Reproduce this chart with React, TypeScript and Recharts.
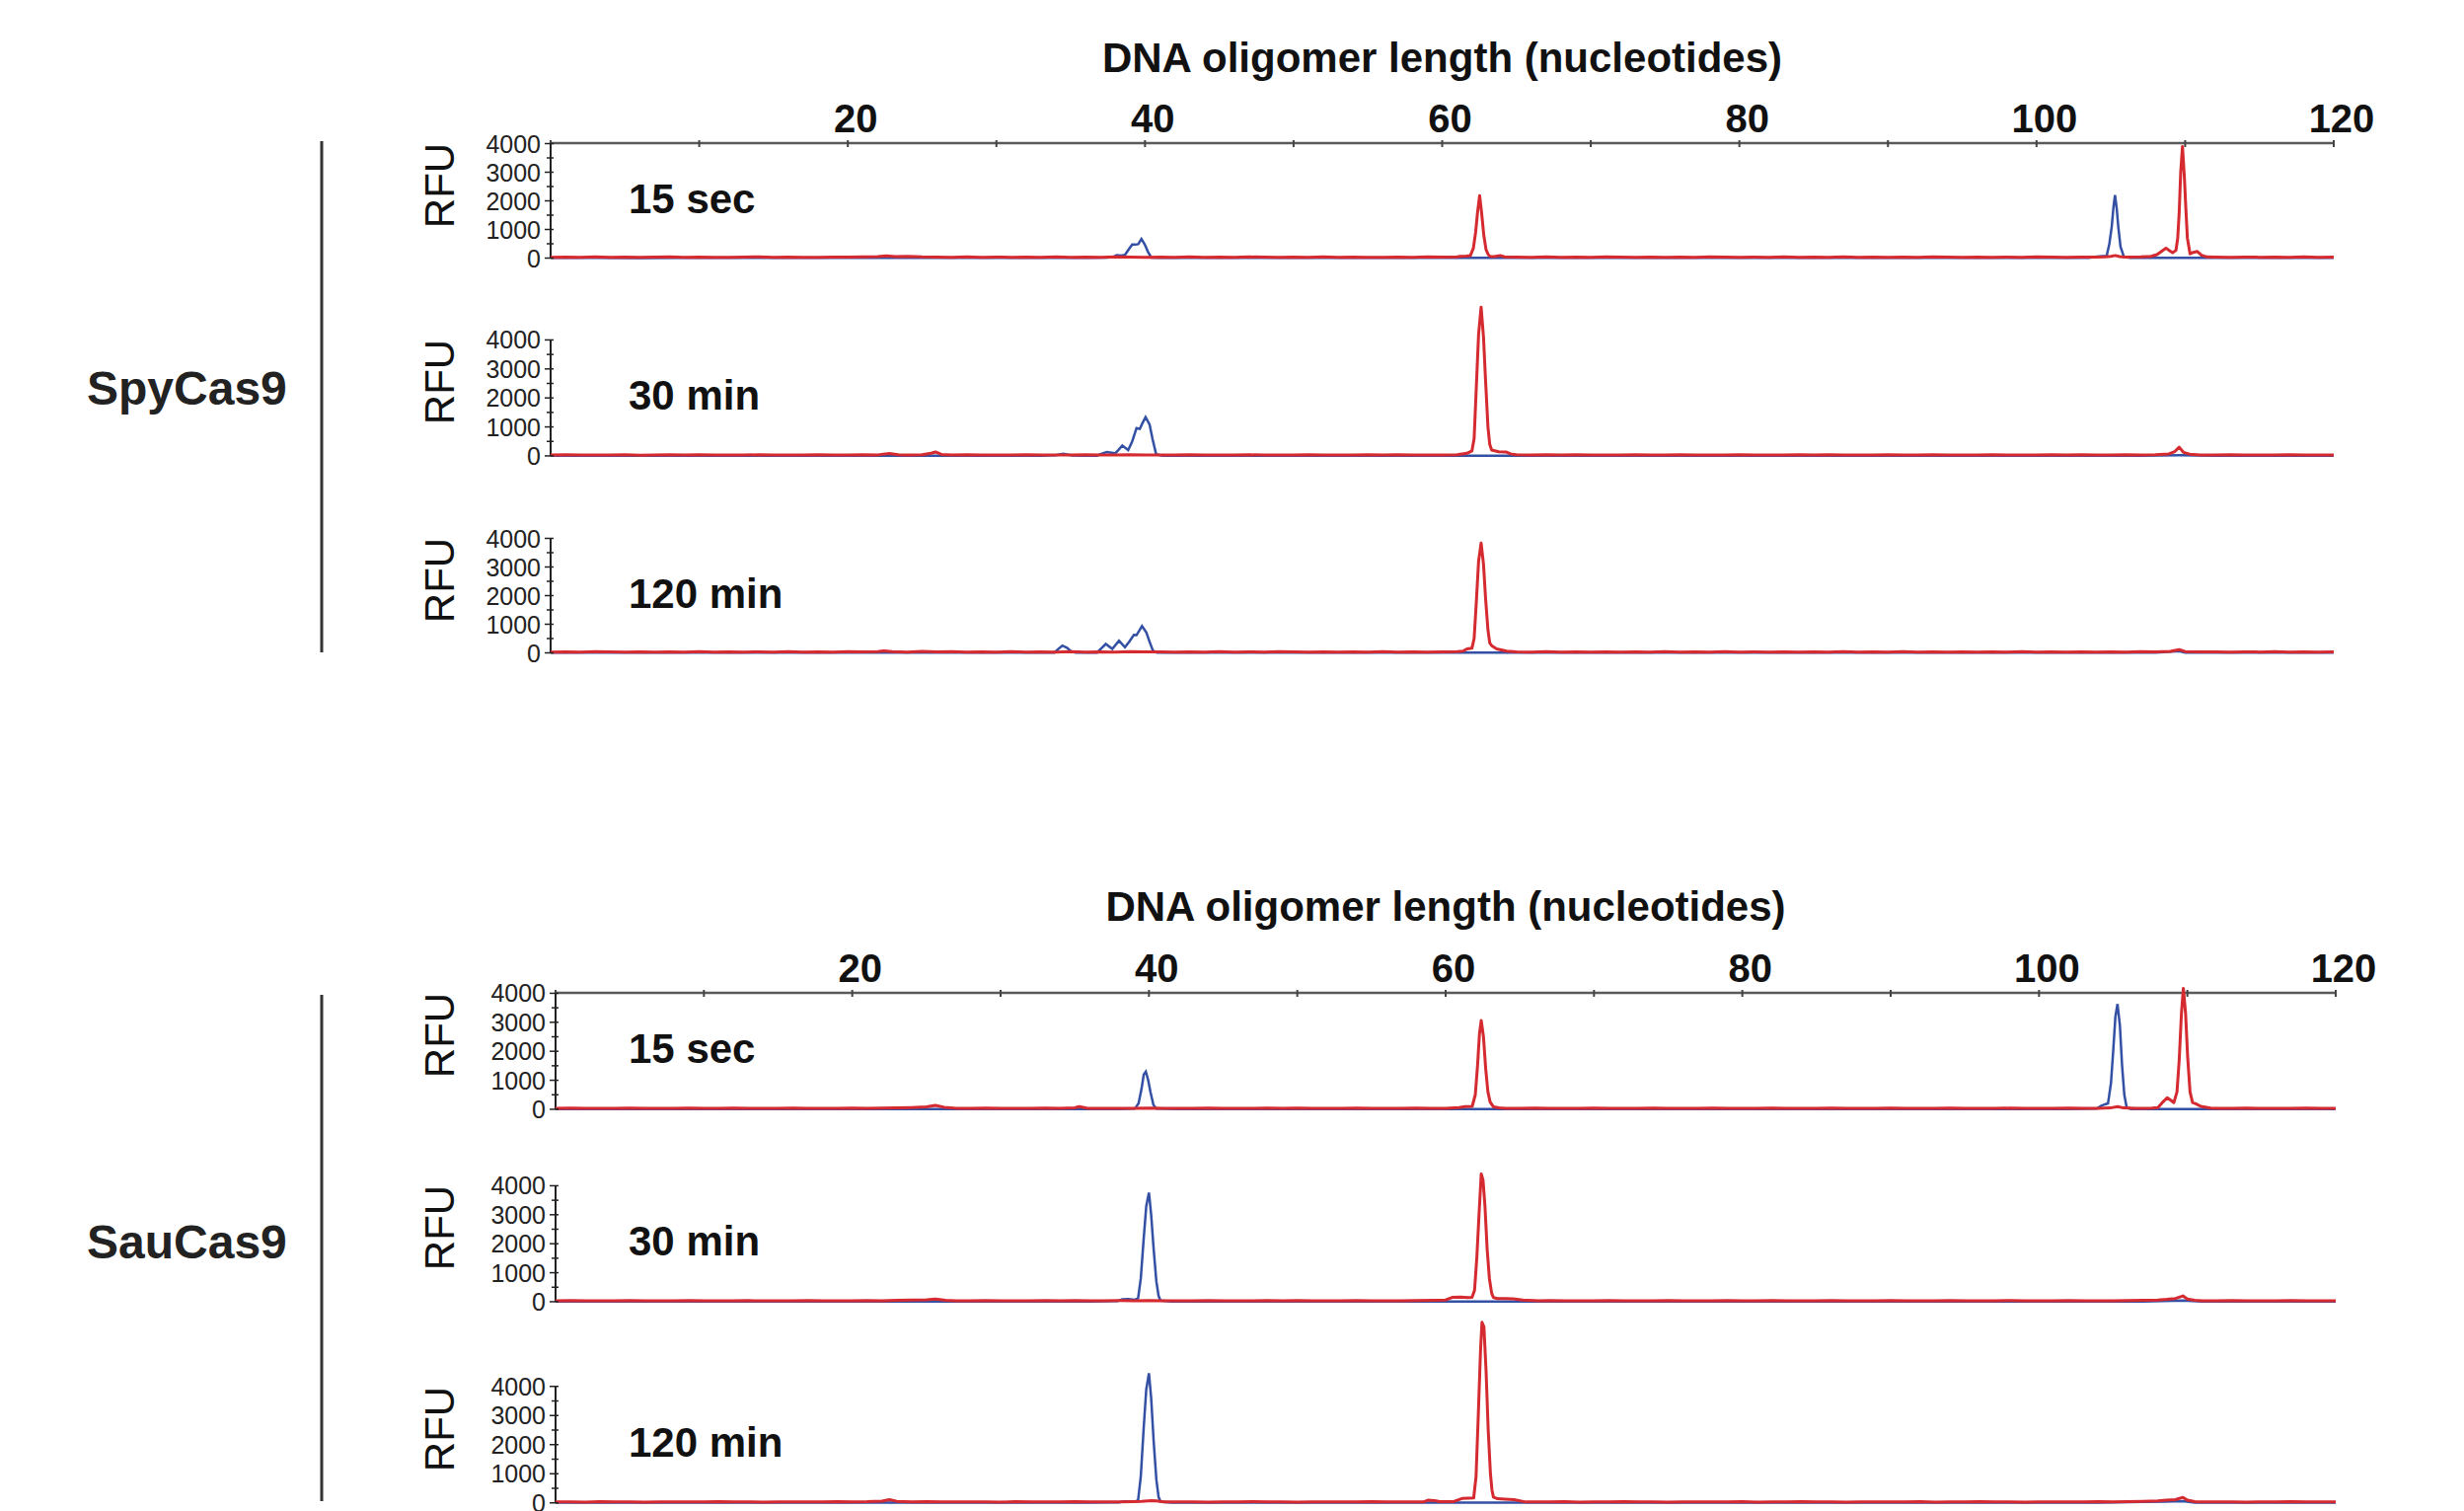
import { Line, LineChart, ReferenceLine, XAxis, YAxis } from "recharts";

const FONT = '"Liberation Sans", Arial, Helvetica, sans-serif';
const RED = "#d42a30";
const BLUE = "#3350a4";
const INK = "#222";
const Y_MAX = 6500;

const xTicks = [0, 10, 20, 30, 40, 50, 60, 70, 80, 90, 100, 110, 120];
const xTickLabels = [20, 40, 60, 80, 100, 120];
const yTicks = [0, 500, 1000, 1500, 2000, 2500, 3000, 3500, 4000];
const yTickLabels = [0, 1000, 2000, 3000, 4000];
const axisTitle = "DNA oligomer length (nucleotides)";

// traces as flat [length, RFU, length, RFU, ...]
const spy15Blue = [0,5, 3,8, 6,4, 9,10, 12,6, 15,9, 18,5, 21,12, 24,7, 27,5, 30,10, 33,6, 36,9, 37.5,15, 37.87,40, 38.1,100, 38.4,85, 38.65,110, 38.9,300, 39.14,475, 39.35,470, 39.54,485, 39.76,670, 39.98,480, 40.2,220, 40.42,20, 41,8, 44,5, 47,9, 50,6, 53,8, 56,5, 59,9, 62,5, 65,8, 68,6, 71,9, 74,5, 77,8, 80,6, 83,9, 86,5, 89,8, 92,6, 95,9, 98,5, 101,8, 103.5,10, 104.06,50, 104.45,70, 104.72,80, 104.9,500, 105.06,1100, 105.18,1800, 105.28,2200, 105.4,1700, 105.5,1100, 105.65,400, 105.88,40, 106.3,10, 108,6, 111,8, 114,5, 117,9, 120,5];
const spy15Red = [0,30, 1,38, 2,26, 3,42, 4,30, 5,36, 6,24, 7,33, 8,44, 9,28, 10,36, 11,30, 12,24, 13,38, 14,42, 15,30, 16,36, 17,28, 18,24, 19,38, 20,32, 21,44, 22,55, 22.6,75, 23.2,48, 24,58, 25,40, 26,34, 27,30, 28,42, 29,28, 30,36, 31,26, 32,38, 33,30, 34,42, 35,30, 36,36, 37,30, 38,44, 39,36, 40,30, 41,36, 42,28, 43,42, 44,30, 45,36, 46,26, 47,42, 48,34, 49,30, 50,38, 51,28, 52,42, 53,30, 54,36, 55,30, 56,26, 57,36, 58,30, 59,42, 60,34, 61,40, 61.2,60, 61.6,70, 61.9,90, 62.1,350, 62.25,900, 62.38,1600, 62.52,2180, 62.65,1600, 62.8,800, 62.95,300, 63.1,120, 63.22,60, 63.5,55, 63.9,90, 64.2,45, 65,36, 66,30, 67,40, 68,28, 69,36, 70,30, 71,42, 72,34, 73,28, 74,38, 75,30, 76,36, 77,26, 78,40, 79,32, 80,30, 81,38, 82,28, 83,40, 84,30, 85,36, 86,28, 87,42, 88,30, 89,36, 90,28, 91,38, 92,30, 93,40, 94,32, 95,28, 96,38, 97,30, 98,36, 99,28, 100,40, 101,32, 102,30, 103,38, 104,32, 104.6,45, 105,60, 105.3,90, 105.6,50, 106,35, 107,42, 107.7,60, 108.1,120, 108.45,250, 108.71,350, 108.95,260, 109.16,185, 109.38,270, 109.5,700, 109.6,1600, 109.7,3000, 109.82,3900, 109.95,2800, 110.05,1700, 110.15,700, 110.33,150, 110.55,200, 110.82,230, 111.1,100, 111.48,40, 112,34, 113,28, 114,38, 115,30, 116,36, 117,28, 118,40, 119,30, 120,34];

const spy30Blue = [0,6, 3,9, 6,5, 9,10, 12,6, 15,8, 18,5, 21,10, 24,7, 27,5, 30,9, 33,6, 34,20, 34.5,70, 35.1,15, 36,8, 36.77,10, 37.1,80, 37.43,136, 37.99,90, 38.2,200, 38.47,360, 38.87,200, 39.14,500, 39.43,960, 39.65,930, 39.85,1150, 40.04,1340, 40.31,1080, 40.5,600, 40.75,55, 41.2,10, 44,6, 47,9, 50,5, 53,8, 56,6, 59,9, 62,5, 65,8, 68,6, 71,9, 74,5, 77,8, 80,6, 83,9, 86,5, 89,8, 92,6, 95,9, 98,5, 101,8, 104,6, 107,9, 109.6,20, 112,6, 115,8, 118,5, 120,7];
const spy30Red = [0,32, 1,40, 2,28, 3,36, 4,30, 5,42, 6,26, 7,34, 8,38, 9,30, 10,44, 11,28, 12,34, 13,30, 14,40, 15,28, 16,36, 17,30, 18,42, 19,32, 20,28, 21,40, 22,36, 22.8,85, 23.4,40, 24,34, 25,44, 25.6,90, 25.9,136, 26.3,50, 27,32, 28,40, 29,30, 30,36, 31,28, 32,40, 33,30, 34,36, 35,28, 36,42, 37,32, 38,36, 39,44, 40,30, 41,36, 42,28, 43,40, 44,30, 45,36, 46,30, 47,40, 48,28, 49,36, 50,32, 51,42, 52,28, 53,36, 54,30, 55,38, 56,28, 57,40, 58,32, 59,36, 60,30, 61,38, 61.67,90, 62.0,170, 62.15,600, 62.3,2400, 62.45,4200, 62.62,5130, 62.78,4100, 62.92,2600, 63.08,1000, 63.2,400, 63.33,200, 63.8,140, 64.33,130, 64.6,70, 65,40, 66,32, 67,38, 68,28, 69,40, 70,30, 71,36, 72,28, 73,42, 74,32, 75,30, 76,38, 77,28, 78,36, 79,30, 80,44, 81,30, 82,36, 83,28, 84,38, 85,30, 86,40, 87,30, 88,36, 89,28, 90,38, 91,32, 92,30, 93,40, 94,28, 95,36, 96,30, 97,42, 98,30, 99,36, 100,28, 101,38, 102,30, 103,40, 104,32, 105,30, 106,38, 107,30, 108,40, 108.9,70, 109.3,150, 109.6,300, 109.9,120, 110.3,60, 111,36, 112,30, 113,38, 114,28, 115,36, 116,30, 117,40, 118,30, 119,36, 120,32];

const spy120Blue = [0,6, 3,9, 6,5, 9,8, 12,6, 15,10, 18,5, 21,8, 24,6, 27,9, 30,5, 33,8, 33.9,12, 34.2,150, 34.44,253, 34.75,180, 35.0,60, 35.33,10, 36,8, 36.77,10, 37.05,150, 37.36,310, 37.8,140, 38.25,425, 38.65,195, 38.95,400, 39.25,630, 39.43,620, 39.8,940, 40.09,710, 40.3,400, 40.53,80, 40.8,10, 42,6, 45,9, 48,5, 51,8, 54,6, 57,9, 60,5, 63,8, 66,6, 69,9, 72,5, 75,8, 78,6, 81,9, 84,5, 87,8, 90,6, 93,9, 96,5, 99,8, 102,6, 105,9, 108,5, 109.6,60, 110,8, 113,6, 116,9, 120,5];
const spy120Red = [0,30, 1,36, 2,28, 3,40, 4,32, 5,30, 6,38, 7,28, 8,36, 9,30, 10,42, 11,30, 12,36, 13,28, 14,38, 15,30, 16,44, 17,30, 18,36, 19,28, 20,40, 21,32, 22,45, 22.4,65, 23,40, 24,30, 25,48, 26,34, 27,40, 28,30, 29,36, 30,28, 31,40, 32,30, 33,36, 34,30, 35,42, 36,28, 37,36, 38,30, 39,40, 40,32, 41,36, 42,28, 43,38, 44,30, 45,42, 46,30, 47,36, 48,28, 49,40, 50,32, 51,30, 52,38, 53,28, 54,36, 55,30, 56,40, 57,30, 58,36, 59,28, 60,38, 61,40, 61.4,60, 61.67,140, 62.0,160, 62.15,500, 62.3,1800, 62.45,3200, 62.62,3840, 62.78,3100, 62.92,1900, 63.08,800, 63.2,350, 63.33,250, 63.67,140, 64.33,60, 65,36, 66,30, 67,40, 68,28, 69,36, 70,30, 71,38, 72,28, 73,36, 74,30, 75,42, 76,30, 77,36, 78,28, 79,40, 80,30, 81,36, 82,28, 83,38, 84,30, 85,36, 86,30, 87,42, 88,28, 89,36, 90,30, 91,40, 92,28, 93,36, 94,30, 95,38, 96,28, 97,36, 98,30, 99,40, 100,30, 101,36, 102,28, 103,38, 104,30, 105,36, 106,30, 107,40, 108,34, 109,50, 109.6,115, 110,45, 111,32, 112,38, 113,28, 114,36, 115,30, 116,40, 117,30, 118,36, 119,28, 120,34];

const sau15Blue = [0,5, 3,8, 6,5, 9,10, 12,6, 15,8, 18,5, 21,9, 24,6, 27,8, 30,5, 33,9, 36,6, 38,8, 39.05,20, 39.3,200, 39.5,700, 39.65,1200, 39.79,1300, 39.95,1000, 40.1,600, 40.3,150, 40.5,20, 42,6, 45,9, 48,5, 51,8, 54,6, 57,9, 60,5, 63,8, 66,6, 69,9, 72,5, 75,8, 78,6, 81,9, 84,5, 87,8, 90,6, 93,9, 96,5, 99,8, 102,6, 103.9,20, 104.2,120, 104.45,170, 104.65,200, 104.85,900, 105.0,2000, 105.15,3200, 105.29,3630, 105.45,2900, 105.6,1500, 105.75,500, 105.91,60, 106.2,10, 108,6, 111,8, 114,5, 117,9, 120,6];
const sau15Red = [0,30, 1,38, 2,28, 3,36, 4,30, 5,42, 6,30, 7,36, 8,28, 9,40, 10,32, 11,30, 12,38, 13,28, 14,36, 15,30, 16,44, 17,30, 18,36, 19,30, 20,40, 21,34, 22,44, 23,50, 24,60, 25,80, 25.6,135, 26.2,70, 27,36, 28,30, 29,40, 30,30, 31,36, 32,28, 33,40, 34,36, 35,50, 35.3,90, 35.8,40, 36,34, 37,28, 38,36, 39,30, 40,44, 41,30, 42,36, 43,28, 44,40, 45,30, 46,36, 47,28, 48,38, 49,30, 50,42, 51,30, 52,36, 53,28, 54,40, 55,30, 56,36, 57,30, 58,40, 59,32, 60,36, 60.9,60, 61.3,90, 61.79,100, 62.0,500, 62.15,1500, 62.28,2600, 62.4,3060, 62.55,2500, 62.7,1400, 62.85,600, 63.0,250, 63.23,80, 63.6,50, 64,36, 65,30, 66,40, 67,28, 68,36, 69,30, 70,42, 71,30, 72,36, 73,28, 74,38, 75,30, 76,36, 77,30, 78,40, 79,28, 80,36, 81,30, 82,42, 83,30, 84,36, 85,28, 86,38, 87,30, 88,36, 89,30, 90,40, 91,28, 92,36, 93,30, 94,42, 95,30, 96,36, 97,28, 98,38, 99,30, 100,36, 101,30, 102,40, 103,30, 104,36, 104.8,45, 105.3,90, 105.7,45, 106.5,32, 107,36, 107.6,40, 108.02,60, 108.35,250, 108.64,400, 108.85,320, 109.09,230, 109.3,600, 109.45,1700, 109.6,3300, 109.73,4170, 109.88,3300, 110.02,1800, 110.18,600, 110.35,230, 110.57,190, 110.9,100, 111.57,40, 112,34, 113,30, 114,38, 115,28, 116,36, 117,30, 118,40, 119,30, 120,34];

const sau30Blue = [0,6, 3,9, 6,5, 9,8, 12,6, 15,10, 18,5, 21,8, 24,6, 27,9, 30,5, 33,8, 36,6, 37.9,20, 38.2,80, 38.6,90, 39.05,70, 39.27,120, 39.45,800, 39.65,2200, 39.82,3300, 40.0,3760, 40.15,3000, 40.32,1800, 40.5,700, 40.65,200, 40.78,40, 41.5,10, 44,6, 47,9, 50,5, 53,8, 56,6, 59,9, 62,5, 65,8, 68,6, 71,9, 74,5, 77,8, 80,6, 83,9, 86,5, 89,8, 92,6, 95,9, 98,5, 101,8, 104,6, 107,9, 109.7,40, 111,8, 114,6, 117,9, 120,5];
const sau30Red = [0,32, 1,38, 2,28, 3,36, 4,30, 5,40, 6,30, 7,36, 8,28, 9,42, 10,30, 11,36, 12,28, 13,38, 14,30, 15,36, 16,30, 17,44, 18,30, 19,36, 20,28, 21,40, 22,34, 23,48, 24,56, 25,70, 25.6,90, 26.3,50, 27,36, 28,30, 29,40, 30,30, 31,36, 32,28, 33,38, 34,30, 35,44, 36,30, 37,36, 38,40, 39,34, 40,40, 41,30, 42,36, 43,28, 44,40, 45,30, 46,36, 47,28, 48,38, 49,30, 50,42, 51,30, 52,36, 53,28, 54,40, 55,30, 56,36, 57,28, 58,38, 59.2,50, 60.0,60, 60.44,150, 61.0,160, 61.5,140, 61.78,150, 61.95,400, 62.1,1500, 62.25,3000, 62.4,4410, 62.52,4200, 62.65,3300, 62.8,1800, 62.95,800, 63.1,300, 63.22,140, 63.5,110, 64.0,110, 64.55,100, 65.2,60, 66.3,35, 67,40, 68,28, 69,36, 70,30, 71,42, 72,30, 73,36, 74,28, 75,38, 76,30, 77,36, 78,30, 79,40, 80,34, 81,30, 82,38, 83,28, 84,36, 85,30, 86,42, 87,30, 88,36, 89,28, 90,38, 91,30, 92,36, 93,30, 94,40, 95,28, 96,36, 97,30, 98,42, 99,30, 100,36, 101,28, 102,38, 103,30, 104,36, 105,30, 106,40, 107,45, 108,60, 108.6,80, 109.2,110, 109.7,200, 110.0,90, 110.5,50, 111,36, 112,30, 113,40, 114,28, 115,36, 116,30, 117,38, 118,30, 119,36, 120,32];

const sau120Blue = [0,5, 3,8, 6,6, 9,9, 12,5, 15,8, 18,6, 21,10, 24,5, 27,8, 30,6, 33,9, 36,5, 38.0,20, 38.3,55, 38.8,55, 39.1,40, 39.27,100, 39.45,900, 39.65,2600, 39.82,3900, 40.0,4450, 40.15,3600, 40.32,2100, 40.5,800, 40.65,200, 40.78,40, 41.5,8, 44,6, 47,9, 50,5, 53,8, 56,6, 59,9, 62,5, 65,8, 68,6, 71,9, 74,5, 77,8, 80,6, 83,9, 86,5, 89,8, 92,6, 95,9, 98,5, 101,8, 104,6, 107,30, 108.5,40, 109.7,60, 110.5,10, 113,6, 116,9, 120,5];
const sau120Red = [0,30, 1,36, 2,28, 3,40, 4,30, 5,36, 6,28, 7,38, 8,30, 9,36, 10,30, 11,42, 12,30, 13,36, 14,28, 15,38, 16,30, 17,36, 18,30, 19,40, 20,32, 21,40, 22,60, 22.5,110, 23,55, 24,36, 25,44, 26,30, 27,38, 28,30, 29,36, 30,28, 31,40, 32,30, 33,36, 34,30, 35,42, 36,30, 37,36, 38,30, 39,40, 39.5,50, 40.16,80, 40.5,70, 41,36, 42,30, 43,38, 44,28, 45,36, 46,30, 47,42, 48,30, 49,36, 50,28, 51,38, 52,30, 53,36, 54,30, 55,40, 56,32, 57,30, 58,36, 58.5,30, 58.8,90, 59.25,80, 59.6,40, 60.5,40, 61.1,150, 61.5,160, 61.89,170, 62.05,900, 62.2,3000, 62.35,5200, 62.45,6200, 62.58,6050, 62.72,4600, 62.87,2500, 63.02,1000, 63.12,450, 63.22,200, 63.5,140, 64.0,130, 64.6,110, 65.4,30, 66,36, 67,30, 68,40, 69,28, 70,36, 71,30, 72,42, 73,30, 74,36, 75,28, 76,38, 77,30, 78,36, 79,30, 80,40, 81,28, 82,36, 83,30, 84,42, 85,30, 86,36, 87,28, 88,38, 89,30, 90,36, 91,30, 92,40, 93,28, 94,36, 95,30, 96,42, 97,30, 98,36, 99,28, 100,38, 101,30, 102,36, 103,30, 104,40, 105,36, 106,40, 107,50, 108,70, 108.6,90, 109.2,110, 109.7,190, 110.0,90, 110.5,45, 111,34, 112,30, 113,38, 114,28, 115,36, 116,30, 117,40, 118,30, 119,36, 120,32];

const toPts = (flat: number[]) => {
  const out: { x: number; y: number }[] = [];
  for (let i = 0; i < flat.length; i += 2) out.push({ x: flat[i], y: flat[i + 1] });
  return out;
};

// page layout (px)
const groups = [
  { name: "SpyCas9", left: 558, right: 2365, axisY: 145, titleY: 73, nameY: 410, barTop: 143, barBottom: 661 },
  { name: "SauCas9", left: 563, right: 2367, axisY: 1006, titleY: 933, nameY: 1275, barTop: 1008, barBottom: 1521 },
];

const panels = [
  { group: 0, label: "15 sec", y4000: 145, y0: 261, blue: spy15Blue, red: spy15Red },
  { group: 0, label: "30 min", y4000: 344, y0: 461.5, blue: spy30Blue, red: spy30Red },
  { group: 0, label: "120 min", y4000: 545, y0: 661, blue: spy120Blue, red: spy120Red },
  { group: 1, label: "15 sec", y4000: 1006, y0: 1123.5, blue: sau15Blue, red: sau15Red },
  { group: 1, label: "30 min", y4000: 1201, y0: 1318.5, blue: sau30Blue, red: sau30Red },
  { group: 1, label: "120 min", y4000: 1405, y0: 1523, blue: sau120Blue, red: sau120Red },
];

const W = 2497;
const YAXIS_W = 60;

function renderXTick(props: any) {
  const { x, y, payload } = props;
  const v = payload.value;
  return (
    <g>
      <line x1={x} x2={x} y1={y - 3} y2={y + 4} stroke="#444" strokeWidth={2} />
      {xTickLabels.includes(v) && (
        <text x={x + 8} y={y - 11} textAnchor="middle" fontSize={40} fontWeight="bold" fill="#111" fontFamily={FONT}>
          {v}
        </text>
      )}
    </g>
  );
}

function renderYTick(props: any) {
  const { x, y, payload } = props;
  const v = payload.value;
  const major = yTickLabels.includes(v);
  return (
    <g>
      <line x1={x - (major ? 6 : 4)} x2={x + 3} y1={y} y2={y} stroke={INK} strokeWidth={1.5} />
      {major && (
        <text x={x - 10} y={y} dy="0.36em" textAnchor="end" fontSize={25} fill={INK} fontFamily={FONT}>
          {v}
        </text>
      )}
    </g>
  );
}

function LengthAxis({ left, right, axisY }: { left: number; right: number; axisY: number }) {
  const axisH = 80;
  return (
    <div style={{ position: "absolute", left: 0, top: axisY - axisH }}>
      <LineChart width={W} height={axisH + 10} data={[{ x: 0 }, { x: 120 }]} margin={{ top: 0, bottom: 0, left, right: W - right }}>
        <XAxis
          type="number"
          dataKey="x"
          orientation="top"
          domain={[0, 120]}
          ticks={xTicks}
          interval={0}
          height={axisH}
          stroke="#5a5a5a"
          strokeWidth={2.5}
          tickSize={0}
          tickMargin={0}
          tickLine={false}
          tick={renderXTick}
        />
      </LineChart>
    </div>
  );
}

function TracePanel({ left, right, y4000, y0, blue, red }: { left: number; right: number; y4000: number; y0: number; blue: number[]; red: number[] }) {
  const plotH = ((y0 - y4000) * Y_MAX) / 4000;
  const mTop = 4;
  const mBottom = 18;
  return (
    <div style={{ position: "absolute", left: 0, top: y0 - plotH - mTop }}>
      <LineChart width={W} height={plotH + mTop + mBottom} margin={{ top: mTop, bottom: mBottom, left: left - YAXIS_W, right: W - right }}>
        <XAxis type="number" dataKey="x" domain={[0, 120]} hide />
        <YAxis
          type="number"
          domain={[0, Y_MAX]}
          ticks={yTicks}
          interval={0}
          width={YAXIS_W}
          axisLine={false}
          tickLine={false}
          tickSize={0}
          tickMargin={0}
          tick={renderYTick}
        />
        <ReferenceLine segment={[{ x: 0, y: 0 }, { x: 0, y: 4000 }]} stroke={INK} strokeWidth={2} />
        <Line data={toPts(blue)} dataKey="y" type="linear" stroke={BLUE} strokeWidth={2.5} dot={false} isAnimationActive={false} />
        <Line data={toPts(red)} dataKey="y" type="linear" stroke={RED} strokeWidth={3} strokeLinejoin="round" dot={false} isAnimationActive={false} />
      </LineChart>
    </div>
  );
}

export default function App() {
  return (
    <div style={{ position: "absolute", left: 0, top: 0, width: W, height: 1531, overflow: "hidden", background: "#fff", fontFamily: FONT }}>
      {groups.map((g) => (
        <LengthAxis key={g.name} left={g.left} right={g.right} axisY={g.axisY} />
      ))}
      {panels.map((p, i) => {
        const g = groups[p.group];
        return <TracePanel key={i} left={g.left} right={g.right} y4000={p.y4000} y0={p.y0} blue={p.blue} red={p.red} />;
      })}
      <svg width={W} height={1531} style={{ position: "absolute", left: 0, top: 0, pointerEvents: "none" }}>
        {groups.map((g) => (
          <g key={g.name}>
            <text x={(g.left + g.right) / 2} y={g.titleY} textAnchor="middle" fontSize={42} fontWeight="bold" fill="#111" fontFamily={FONT}>
              {axisTitle}
            </text>
            <text x={88} y={g.nameY} fontSize={48} fontWeight="bold" fill="#222" fontFamily={FONT}>
              {g.name}
            </text>
            <line x1={326} x2={326} y1={g.barTop} y2={g.barBottom} stroke="#333" strokeWidth={3} />
          </g>
        ))}
        {panels.map((p, i) => (
          <g key={i}>
            <text
              transform={`translate(445, ${p.y4000 + 43}) rotate(-90)`}
              textAnchor="middle"
              dy="0.36em"
              fontSize={42}
              fill="#111"
              fontFamily={FONT}
            >
              RFU
            </text>
            <text x={637} y={p.y4000 + 71} fontSize={42} fontWeight="bold" fill="#111" fontFamily={FONT}>
              {p.label}
            </text>
          </g>
        ))}
      </svg>
    </div>
  );
}
